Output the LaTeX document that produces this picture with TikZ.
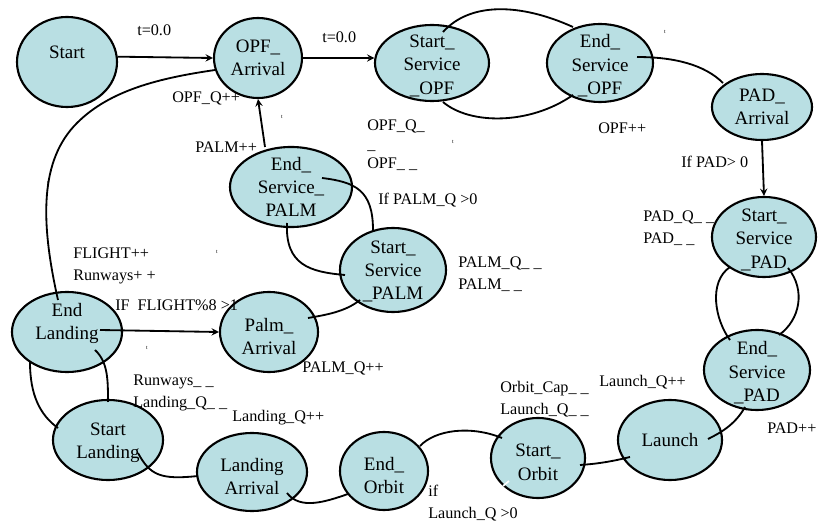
\documentclass[tikz,border=0pt]{standalone}
\usepackage{fontspec}
\setmainfont{Liberation Serif}
\usetikzlibrary{shapes.geometric}
\tikzset{>=stealth}
\definecolor{stfill}{RGB}{185,223,227}
\tikzset{
  state/.style={ellipse, draw, line width=1.5pt, fill=stfill, inner sep=0pt},
  stxt/.style={align=center, font=\fontsize{13.5}{16.5}\selectfont, inner sep=0pt},
  note/.style={align=left, anchor=west, font=\fontsize{11.5}{15.6}\selectfont, inner sep=0pt},
  link/.style={line width=1.3pt},
  tmark/.style={font=\fontsize{4}{4}\selectfont, inner sep=0pt}
}

\begin{document}
\begin{tikzpicture}[x=0.025cm, y=-0.025cm]
\useasboundingbox (0,0) rectangle (818,525);

% states
\node[state, minimum width=2.5cm, minimum height=2.25cm, label={[stxt,yshift=7pt]center:Start}] (start) at (67,62) {};
\node[state, minimum width=2.2cm, minimum height=2cm, label={[stxt]center:{OPF\_\\Arrival}}] (opfarr) at (258,58) {};
\node[state, minimum width=2.85cm, minimum height=1.9cm, label={[stxt,yshift=-2pt]center:{Start\_\\Service\\\_OPF}}] (sso) at (432,63) {};
\node[state, minimum width=2.65cm, minimum height=1.95cm, label={[stxt,yshift=-2pt]center:{End\_\\Service\\\_OPF}}] (eso) at (600,63) {};
\node[state, minimum width=2.5cm, minimum height=1.65cm, label={[stxt]center:{PAD\_\\Arrival}}] (padarr) at (762,107) {};
\node[state, minimum width=2.6cm, minimum height=2cm, label={[stxt,yshift=-2pt]center:{Start\_\\Service\\\_PAD}}] (sspad) at (764,237) {};
\node[state, minimum width=2.65cm, minimum height=2cm, label={[stxt,yshift=-2pt]center:{End\_\\Service\\\_PAD}}] (espad) at (757,370) {};
\node[state, minimum width=2.6cm, minimum height=2cm, label={[stxt]center:Launch}] (launch) at (670,440) {};
\node[state, minimum width=2.35cm, minimum height=2cm, label={[stxt,yshift=-3pt]center:{Start\_\\Orbit}}] (sorbit) at (538,458) {};
\node[state, minimum width=2.2cm, minimum height=1.95cm, label={[stxt,yshift=-3pt]center:{End\_\\Orbit}}] (eorbit) at (384,471) {};
\node[state, minimum width=2.75cm, minimum height=1.95cm, label={[stxt,yshift=-3pt]center:{Landing\\Arrival}}] (larr) at (252,472) {};
\node[state, minimum width=2.75cm, minimum height=2cm, label={[stxt,yshift=-2pt]center:{Start\\Landing}}] (sland) at (108,440) {};
\node[state, minimum width=2.75cm, minimum height=2cm, label={[stxt,yshift=6pt]center:{End\\Landing}}] (eland) at (67,332) {};
\node[state, minimum width=2.45cm, minimum height=2cm, label={[stxt,yshift=-3pt]center:{Palm\_\\Arrival}}] (palmarr) at (269,332) {};
\node[state, minimum width=2.65cm, minimum height=2.1cm, label={[stxt,yshift=-1pt]center:{Start\_\\Service\\\_PALM}}] (sspalm) at (393,270) {};
\node[state, minimum width=3.05cm, minimum height=2cm, label={[stxt]center:{End\_\\Service\_\\PALM}}] (espalm) at (291,187) {};

% arrows
\path[->, link]
  (start.6) edge (opfarr.west)
  (opfarr.east) edge (sso.175)
  (padarr.south) edge (sspad.north)
  ([shift={(33,-2)}]eland.center) edge (palmarr.west)
  ([shift={(-26,-40)}]espalm.center) edge (opfarr.south);

% curved links
\draw[link] ([shift={(11,-31)}]sso.center) .. controls (470,2) and (520,3) .. ([shift={(-27,-36)}]eso.center);
\draw[link] ([shift={(11,39)}]sso.center) .. controls (470,125) and (530,125) .. ([shift={(-27,32)}]eso.center);
\draw[link] ([shift={(37,-6)}]eso.center) .. controls (675,57) and (705,65) .. ([shift={(-39,-24)}]padarr.center);
\draw[link] ([shift={(-34,30)}]sspad.center) .. controls (708,282) and (715,320) .. ([shift={(-27,-30)}]espad.center);
\draw[link] ([shift={(24,31)}]sspad.center) .. controls (806,290) and (800,320) .. ([shift={(22,-35)}]espad.center);
\draw[link] ([shift={(-12,37)}]espad.center) .. controls (735,425) and (720,433) .. ([shift={(38,-1)}]launch.center);
\draw[link] ([shift={(-40,17)}]launch.center) .. controls (610,462) and (595,464) .. ([shift={(42,7)}]sorbit.center);
\draw[link] ([shift={(-36,-20)}]sorbit.center) .. controls (470,425) and (435,430) .. ([shift={(36,-25)}]eorbit.center);
\draw[link] ([shift={(-36,23)}]eorbit.center) .. controls (325,502) and (300,510) .. ([shift={(35,21)}]larr.center);
\draw[link] ([shift={(-54,4)}]larr.center) .. controls (160,480) and (150,475) .. ([shift={(30,13)}]sland.center);
\draw[link] ([shift={(-37,30)}]eland.center) .. controls (30,395) and (40,415) .. ([shift={(-50,-12)}]sland.center);
\draw[link] ([shift={(28,18)}]eland.center) .. controls (108,362) and (108,380) .. ([shift={(0,-38)}]sland.center);
\draw[link] ([shift={(-9,-32)}]eland.center) .. controls (40,220) and (40,160) .. (77,123) .. controls (110,90) and (160,78) .. ([shift={(-43,12)}]opfarr.center);
\draw[link] ([shift={(31,-9)}]espalm.center) .. controls (355,182) and (373,190) .. ([shift={(-20,-40)}]sspalm.center);
\draw[link] ([shift={(-4,36)}]espalm.center) .. controls (285,265) and (310,272) .. ([shift={(-48,5)}]sspalm.center);
\draw[link] ([shift={(-33,30)}]sspalm.center) .. controls (345,312) and (325,315) .. ([shift={(39,-14)}]palmarr.center);
\draw[white, line width=1.2pt] ([shift={(-35,28)}]sorbit.center) -- ([shift={(-29,23)}]sorbit.center);

% labels
\node[note] (l1) at (137,30) {t=0.0};
\node[note] (l2) at (322,37) {t=0.0};
\node[note] (l3) at (172,98) {OPF\_Q++};
\node[note] (l4) at (195,147) {PALM++};
\node[note, font=\fontsize{11.5}{13.5}\selectfont] (l5) at (367,145) {OPF\_Q\_\\\_\\OPF\_ \_};
\node[note] (l6) at (598,128) {OPF++};
\node[note] (l7) at (681,162) {If PAD> 0};
\node[note] (l8) at (643,228) {PAD\_Q\_ \_\\PAD\_ \_};
\node[note] (l9) at (378,200) {If PALM\_Q >0};
\node[note] (l10) at (458,274) {PALM\_Q\_ \_\\PALM\_ \_};
\node[note] (l11) at (73,266) {FLIGHT++\\Runways+ +};
\node[note] (l12) at (115,305) {IF\ \ FLIGHT\%8 >1};
\node[note] (l13) at (302,368) {PALM\_Q++};
\node[note] (l14) at (133,393) {Runways\_ \_\\Landing\_Q\_ \_};
\node[note] (l15) at (232,418) {Landing\_Q++};
\node[note] (l16) at (500,399) {Orbit\_Cap\_ \_\\Launch\_Q\_ \_};
\node[note] (l17) at (599,382) {Launch\_Q++};
\node[note] (l18) at (767,428) {PAD++};
\node[note] (l19) at (428,503) {if\\Launch\_Q >0};

% stray marks
\node[tmark] (t1) at (282,117) {t};
\node[tmark] (t2) at (665,32) {t};
\node[tmark] (t3) at (453,142) {t};
\node[tmark] (t4) at (217,252) {t};
\node[tmark] (t5) at (147,348) {t};
\node[tmark] (t6) at (48,183) {t};
\end{tikzpicture}
\end{document}
